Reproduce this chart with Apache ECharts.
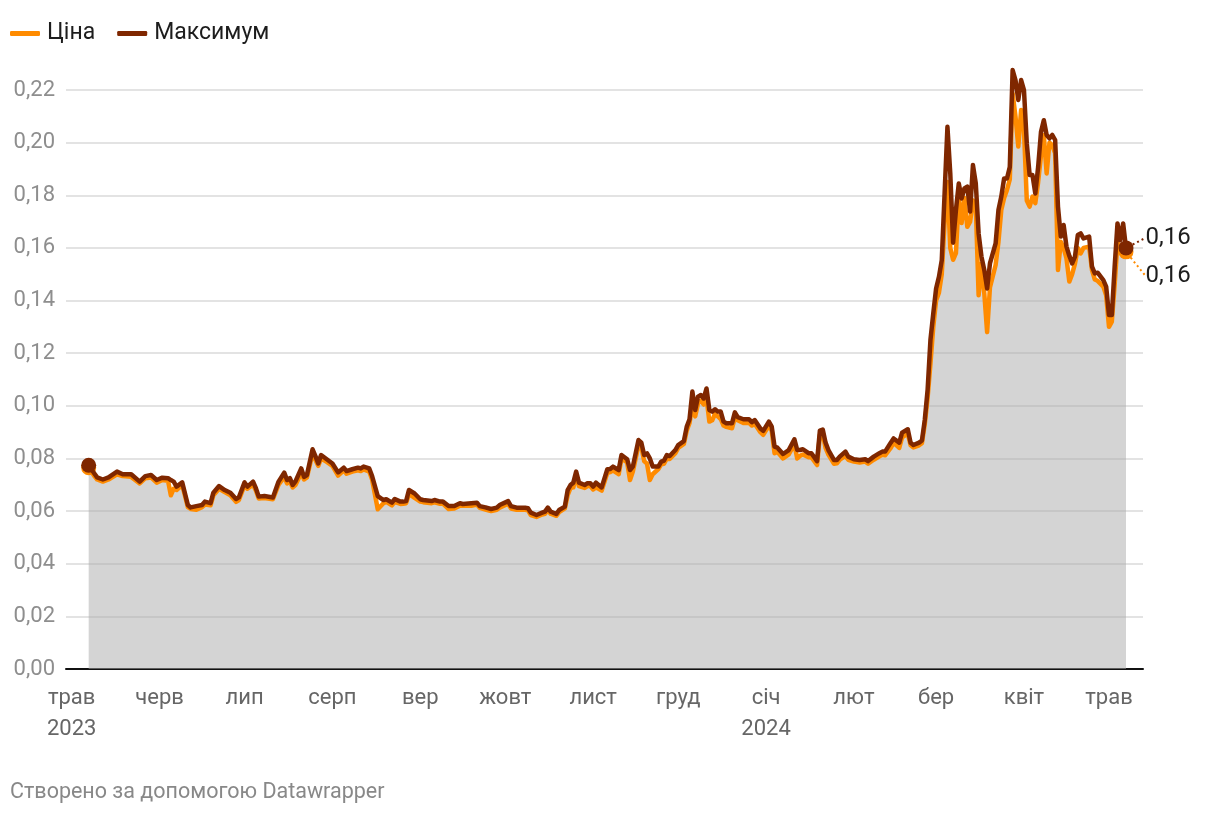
<!DOCTYPE html>
<html>
<head>
<meta charset="utf-8">
<script src="https://cdn.jsdelivr.net/npm/echarts@6/dist/echarts.min.js"></script>
<style>
html,body{margin:0;padding:0;background:#fff;}
#chart{width:1220px;height:816px;}
</style>
</head>
<body>
<div id="chart"></div>
<script>
// ---- data ----
const seriesNames = ['Ціна', 'Максимум'];
const monthNames = ['січ','лют','бер','квіт','трав','черв','лип','серп','вер','жовт','лист','груд'];
const yTicks = [0, 0.02, 0.04, 0.06, 0.08, 0.10, 0.12, 0.14, 0.16, 0.18, 0.20, 0.22];
const axisStart = '2023-04-29';
const axisEnd = '2024-05-13';

const dates = [
'2023-05-07','2023-05-09','2023-05-10','2023-05-12','2023-05-14','2023-05-17','2023-05-19','2023-05-22','2023-05-25','2023-05-27',
'2023-05-29','2023-05-31','2023-06-02','2023-06-04','2023-06-05','2023-06-06','2023-06-07','2023-06-09','2023-06-11','2023-06-12',
'2023-06-14','2023-06-16','2023-06-17','2023-06-19','2023-06-20','2023-06-22','2023-06-24','2023-06-26','2023-06-28','2023-06-29',
'2023-07-01','2023-07-02','2023-07-04','2023-07-05','2023-07-06','2023-07-08','2023-07-11','2023-07-13','2023-07-15','2023-07-16',
'2023-07-17','2023-07-18','2023-07-19','2023-07-21','2023-07-22','2023-07-23','2023-07-25','2023-07-26','2023-07-27','2023-07-28',
'2023-07-30','2023-08-01','2023-08-03','2023-08-05','2023-08-06','2023-08-08','2023-08-10','2023-08-11','2023-08-12','2023-08-14',
'2023-08-15','2023-08-17','2023-08-19','2023-08-20','2023-08-22','2023-08-23','2023-08-25','2023-08-26','2023-08-27','2023-08-28',
'2023-08-30','2023-09-01','2023-09-02','2023-09-05','2023-09-06','2023-09-08','2023-09-09','2023-09-11','2023-09-13','2023-09-15',
'2023-09-16','2023-09-19','2023-09-21','2023-09-22','2023-09-24','2023-09-26','2023-09-28','2023-09-29','2023-10-02','2023-10-03',
'2023-10-05','2023-10-08','2023-10-09','2023-10-10','2023-10-12','2023-10-14','2023-10-15','2023-10-16','2023-10-17','2023-10-19',
'2023-10-20','2023-10-22','2023-10-23','2023-10-24','2023-10-25','2023-10-26','2023-10-27','2023-10-29','2023-10-30','2023-10-31',
'2023-11-01','2023-11-02','2023-11-04','2023-11-06','2023-11-07','2023-11-08','2023-11-10','2023-11-11','2023-11-13','2023-11-14',
'2023-11-15','2023-11-17','2023-11-18','2023-11-19','2023-11-20','2023-11-21','2023-11-22','2023-11-24','2023-11-25','2023-11-26',
'2023-11-27','2023-11-28','2023-11-30','2023-12-01','2023-12-03','2023-12-04','2023-12-05','2023-12-06','2023-12-07','2023-12-08',
'2023-12-09','2023-12-10','2023-12-11','2023-12-12','2023-12-13','2023-12-14','2023-12-15','2023-12-16','2023-12-17','2023-12-18',
'2023-12-20','2023-12-21','2023-12-22','2023-12-24','2023-12-26','2023-12-27','2023-12-28','2023-12-30','2023-12-31','2024-01-02',
'2024-01-03','2024-01-04','2024-01-05','2024-01-07','2024-01-09','2024-01-11','2024-01-12','2024-01-13','2024-01-14','2024-01-16',
'2024-01-17','2024-01-19','2024-01-20','2024-01-21','2024-01-22','2024-01-23','2024-01-25','2024-01-26','2024-01-27','2024-01-29',
'2024-01-30','2024-02-01','2024-02-03','2024-02-05','2024-02-06','2024-02-08','2024-02-10','2024-02-11','2024-02-12','2024-02-14',
'2024-02-15','2024-02-17','2024-02-18','2024-02-20','2024-02-21','2024-02-22','2024-02-24','2024-02-25','2024-02-26','2024-02-27',
'2024-02-28','2024-02-29','2024-03-01','2024-03-02','2024-03-03','2024-03-04','2024-03-05','2024-03-06','2024-03-07','2024-03-08',
'2024-03-09','2024-03-10','2024-03-11','2024-03-12','2024-03-13','2024-03-14','2024-03-15','2024-03-16','2024-03-17','2024-03-18',
'2024-03-19','2024-03-20','2024-03-22','2024-03-23','2024-03-24','2024-03-25','2024-03-26','2024-03-27','2024-03-28','2024-03-29',
'2024-03-30','2024-03-31','2024-04-01','2024-04-02','2024-04-03','2024-04-04','2024-04-05','2024-04-06','2024-04-07','2024-04-08',
'2024-04-09','2024-04-10','2024-04-11','2024-04-12','2024-04-13','2024-04-14','2024-04-15','2024-04-16','2024-04-17','2024-04-18',
'2024-04-19','2024-04-20','2024-04-21','2024-04-22','2024-04-24','2024-04-25','2024-04-26','2024-04-27','2024-04-29','2024-04-30',
'2024-05-01','2024-05-02','2024-05-03','2024-05-04','2024-05-05','2024-05-06','2024-05-07'
];

const high = [
0.0774,0.0743,0.0728,0.0720,0.0728,0.0750,0.0740,0.0740,0.0712,0.0733,
0.0737,0.0718,0.0727,0.0725,0.0718,0.0712,0.0693,0.0709,0.0623,0.0614,
0.0619,0.0623,0.0636,0.0630,0.0670,0.0695,0.0680,0.0670,0.0646,0.0652,
0.0709,0.0693,0.0712,0.0687,0.0655,0.0657,0.0652,0.0712,0.0746,0.0718,
0.0725,0.0699,0.0714,0.0762,0.0730,0.0737,0.0835,0.0809,0.0781,0.0813,
0.0797,0.0781,0.0747,0.0765,0.0752,0.0759,0.0765,0.0762,0.0769,0.0762,
0.0733,0.0657,0.0642,0.0645,0.0632,0.0646,0.0636,0.0636,0.0638,0.0680,
0.0667,0.0645,0.0642,0.0638,0.0642,0.0636,0.0636,0.0619,0.0619,0.0630,
0.0627,0.0630,0.0632,0.0619,0.0614,0.0608,0.0613,0.0623,0.0638,0.0619,
0.0613,0.0613,0.0611,0.0594,0.0585,0.0594,0.0598,0.0613,0.0598,0.0589,
0.0604,0.0617,0.0680,0.0699,0.0708,0.0750,0.0708,0.0699,0.0706,0.0706,
0.0693,0.0708,0.0690,0.0759,0.0760,0.0769,0.0756,0.0813,0.0797,0.0756,
0.0769,0.0870,0.0860,0.0813,0.0819,0.0800,0.0769,0.0769,0.0788,0.0792,
0.0813,0.0809,0.0832,0.0851,0.0866,0.0920,0.0949,0.1054,0.0984,0.1035,
0.1041,0.1028,0.1066,0.0984,0.0978,0.0987,0.0978,0.0978,0.0940,0.0934,
0.0934,0.0975,0.0957,0.0949,0.0949,0.0938,0.0946,0.0914,0.0905,0.0940,
0.0921,0.0845,0.0841,0.0817,0.0832,0.0873,0.0832,0.0832,0.0835,0.0820,
0.0820,0.0790,0.0906,0.0910,0.0860,0.0832,0.0794,0.0794,0.0807,0.0826,
0.0807,0.0797,0.0794,0.0797,0.0790,0.0807,0.0820,0.0826,0.0826,0.0860,
0.0876,0.0860,0.0898,0.0911,0.0860,0.0851,0.0860,0.0868,0.0946,0.1060,
0.1250,0.1351,0.1446,0.1490,0.1554,0.1807,0.2060,0.1883,0.1620,0.1744,
0.1845,0.1788,0.1826,0.1833,0.1738,0.1915,0.1845,0.1655,0.1567,0.1516,
0.1446,0.1541,0.1617,0.1744,0.1795,0.1864,0.1864,0.1907,0.2276,0.2238,
0.2162,0.2238,0.2200,0.1997,0.1877,0.1877,0.1807,0.1907,0.2040,0.2085,
0.2029,0.2016,0.2029,0.2010,0.1757,0.1643,0.1687,0.1605,0.1570,0.1541,
0.1567,0.1649,0.1655,0.1636,0.1643,0.1529,0.1503,0.1506,0.1478,0.1453,
0.1345,0.1345,0.1529,0.1693,0.1630,0.1693,0.1600
];

const price = [
0.0765,0.0733,0.0720,0.0712,0.0720,0.0740,0.0733,0.0730,0.0705,0.0725,
0.0728,0.0708,0.0718,0.0715,0.0660,0.0685,0.0680,0.0700,0.0615,0.0608,
0.0605,0.0615,0.0625,0.0622,0.0660,0.0685,0.0672,0.0660,0.0635,0.0642,
0.0698,0.0685,0.0700,0.0678,0.0648,0.0650,0.0645,0.0700,0.0730,0.0705,
0.0712,0.0690,0.0700,0.0745,0.0720,0.0728,0.0820,0.0795,0.0772,0.0800,
0.0787,0.0772,0.0735,0.0755,0.0742,0.0750,0.0755,0.0752,0.0758,0.0750,
0.0720,0.0607,0.0630,0.0635,0.0622,0.0635,0.0627,0.0628,0.0630,0.0665,
0.0650,0.0636,0.0634,0.0630,0.0633,0.0628,0.0628,0.0608,0.0610,0.0620,
0.0620,0.0620,0.0625,0.0612,0.0606,0.0600,0.0605,0.0613,0.0628,0.0610,
0.0605,0.0605,0.0603,0.0585,0.0578,0.0587,0.0590,0.0603,0.0590,0.0582,
0.0596,0.0610,0.0660,0.0688,0.0690,0.0735,0.0695,0.0688,0.0695,0.0695,
0.0682,0.0690,0.0678,0.0745,0.0748,0.0755,0.0740,0.0800,0.0785,0.0718,
0.0750,0.0850,0.0845,0.0790,0.0780,0.0718,0.0740,0.0760,0.0778,0.0780,
0.0800,0.0798,0.0820,0.0840,0.0855,0.0905,0.0935,0.1000,0.0960,0.1010,
0.1020,0.1005,0.1030,0.0940,0.0945,0.0970,0.0960,0.0950,0.0925,0.0920,
0.0915,0.0955,0.0945,0.0935,0.0935,0.0925,0.0932,0.0900,0.0890,0.0925,
0.0905,0.0820,0.0825,0.0800,0.0815,0.0855,0.0800,0.0810,0.0815,0.0805,
0.0805,0.0775,0.0890,0.0895,0.0840,0.0815,0.0780,0.0782,0.0795,0.0810,
0.0795,0.0788,0.0785,0.0788,0.0780,0.0795,0.0808,0.0815,0.0812,0.0840,
0.0860,0.0840,0.0880,0.0895,0.0850,0.0842,0.0850,0.0858,0.0930,0.1030,
0.1160,0.1300,0.1400,0.1430,0.1500,0.1700,0.1850,0.1600,0.1555,0.1580,
0.1790,0.1695,0.1790,0.1680,0.1700,0.1780,0.1760,0.1420,0.1540,0.1428,
0.1280,0.1450,0.1535,0.1623,0.1744,0.1790,0.1820,0.1860,0.2187,0.2100,
0.1985,0.2124,0.2050,0.1780,0.1757,0.1795,0.1770,0.1850,0.1950,0.2029,
0.1883,0.2000,0.1990,0.1960,0.1516,0.1623,0.1600,0.1560,0.1472,0.1500,
0.1540,0.1600,0.1579,0.1600,0.1605,0.1516,0.1480,0.1475,0.1453,0.1420,
0.1300,0.1320,0.1460,0.1623,0.1600,0.1573,0.1585
];

// ---- build chart ----
const ORANGE = '#ff8b00';
const BROWN = '#7f2700';
const FONT = 'Roboto, "Noto Sans", sans-serif';

function pad(n){ return n < 10 ? '0' + n : '' + n; }
const categories = [];
(function(){
  const s = new Date(axisStart + 'T00:00:00Z');
  const e = new Date(axisEnd + 'T00:00:00Z');
  for (let d = new Date(s); d <= e; d.setUTCDate(d.getUTCDate() + 1)) {
    categories.push(d.getUTCFullYear() + '-' + pad(d.getUTCMonth() + 1) + '-' + pad(d.getUTCDate()));
  }
})();

function fmt(v){ return v.toFixed(2).replace('.', ','); }

function buildData(values, color) {
  const n = values.length;
  return values.map(function(v, i){
    const item = { value: [dates[i], v] };
    if (i === 0 || i === n - 1) {
      item.symbol = 'circle';
      item.symbolSize = 15;
      item.itemStyle = { color: color };
    }
    if (i === n - 1) {
      item.label = {
        show: true, position: 'right', distance: 4,
        formatter: function(p){ return fmt(p.value[1]); },
        color: '#1d1d1d', fontSize: 24, fontFamily: FONT
      };
      item.labelLine = { show: true, lineStyle: { color: color, width: 2, type: [2, 3] } };
    }
    return item;
  });
}

const chart = echarts.init(document.getElementById('chart'), null, { renderer: 'canvas' });

chart.setOption({
  animation: false,
  backgroundColor: '#ffffff',
  textStyle: { fontFamily: FONT },
  title: {
    text: 'Створено за допомогою Datawrapper',
    left: 5, top: 777,
    textStyle: { fontSize: 21.5, color: '#888888', fontWeight: 'normal', fontFamily: FONT }
  },
  legend: {
    left: 5, top: 17,
    itemWidth: 30, itemHeight: 5, itemGap: 22,
    icon: 'roundRect',
    textStyle: { fontSize: 23, color: '#1d1d1d', fontFamily: FONT, padding: [0, 0, 0, 2] },
    data: seriesNames
  },
  grid: { left: 66, right: 77, top: 90, bottom: 147, containLabel: false },
  xAxis: {
    type: 'category',
    data: categories,
    boundaryGap: false,
    axisLine: { show: true, lineStyle: { color: '#111', width: 2 } },
    axisTick: { show: false },
    splitLine: { show: false },
    axisLabel: {
      interval: function(idx, val){ return val.slice(8) === '01'; },
      margin: 14,
      color: '#666666',
      fontSize: 22,
      lineHeight: 31,
      fontFamily: FONT,
      formatter: function(val){
        const y = +val.slice(0, 4), m = +val.slice(5, 7) - 1;
        const name = monthNames[m];
        if (m === 0 || (y === 2023 && m === 4)) return name + '\n' + y;
        return name;
      }
    }
  },
  yAxis: {
    type: 'value',
    min: yTicks[0], max: yTicks[yTicks.length - 1], interval: 0.02,
    axisLine: { show: false },
    axisTick: { show: false },
    splitLine: { show: true, lineStyle: { color: '#e3e3e3', width: 2 } },
    axisLabel: {
      margin: 11, color: '#8e8e8e', fontSize: 22, fontFamily: FONT,
      formatter: function(v){ return fmt(v); }
    }
  },
  series: [
    {
      name: seriesNames[0],
      type: 'line',
      data: buildData(price, ORANGE),
      symbol: 'none',
      showAllSymbol: true,
      clip: false,
      color: ORANGE,
      lineStyle: { color: ORANGE, width: 4.5, cap: 'round', join: 'round' },
      areaStyle: { color: '#a9a9a9', opacity: 0.5 },
      labelLayout: { dx: 8, dy: 24 },
      z: 2
    },
    {
      name: seriesNames[1],
      type: 'line',
      data: buildData(high, BROWN),
      symbol: 'none',
      showAllSymbol: true,
      clip: false,
      color: BROWN,
      lineStyle: { color: BROWN, width: 4.5, cap: 'round', join: 'round' },
      labelLayout: { dx: 8, dy: -10 },
      z: 3
    }
  ]
});
</script>
</body>
</html>
